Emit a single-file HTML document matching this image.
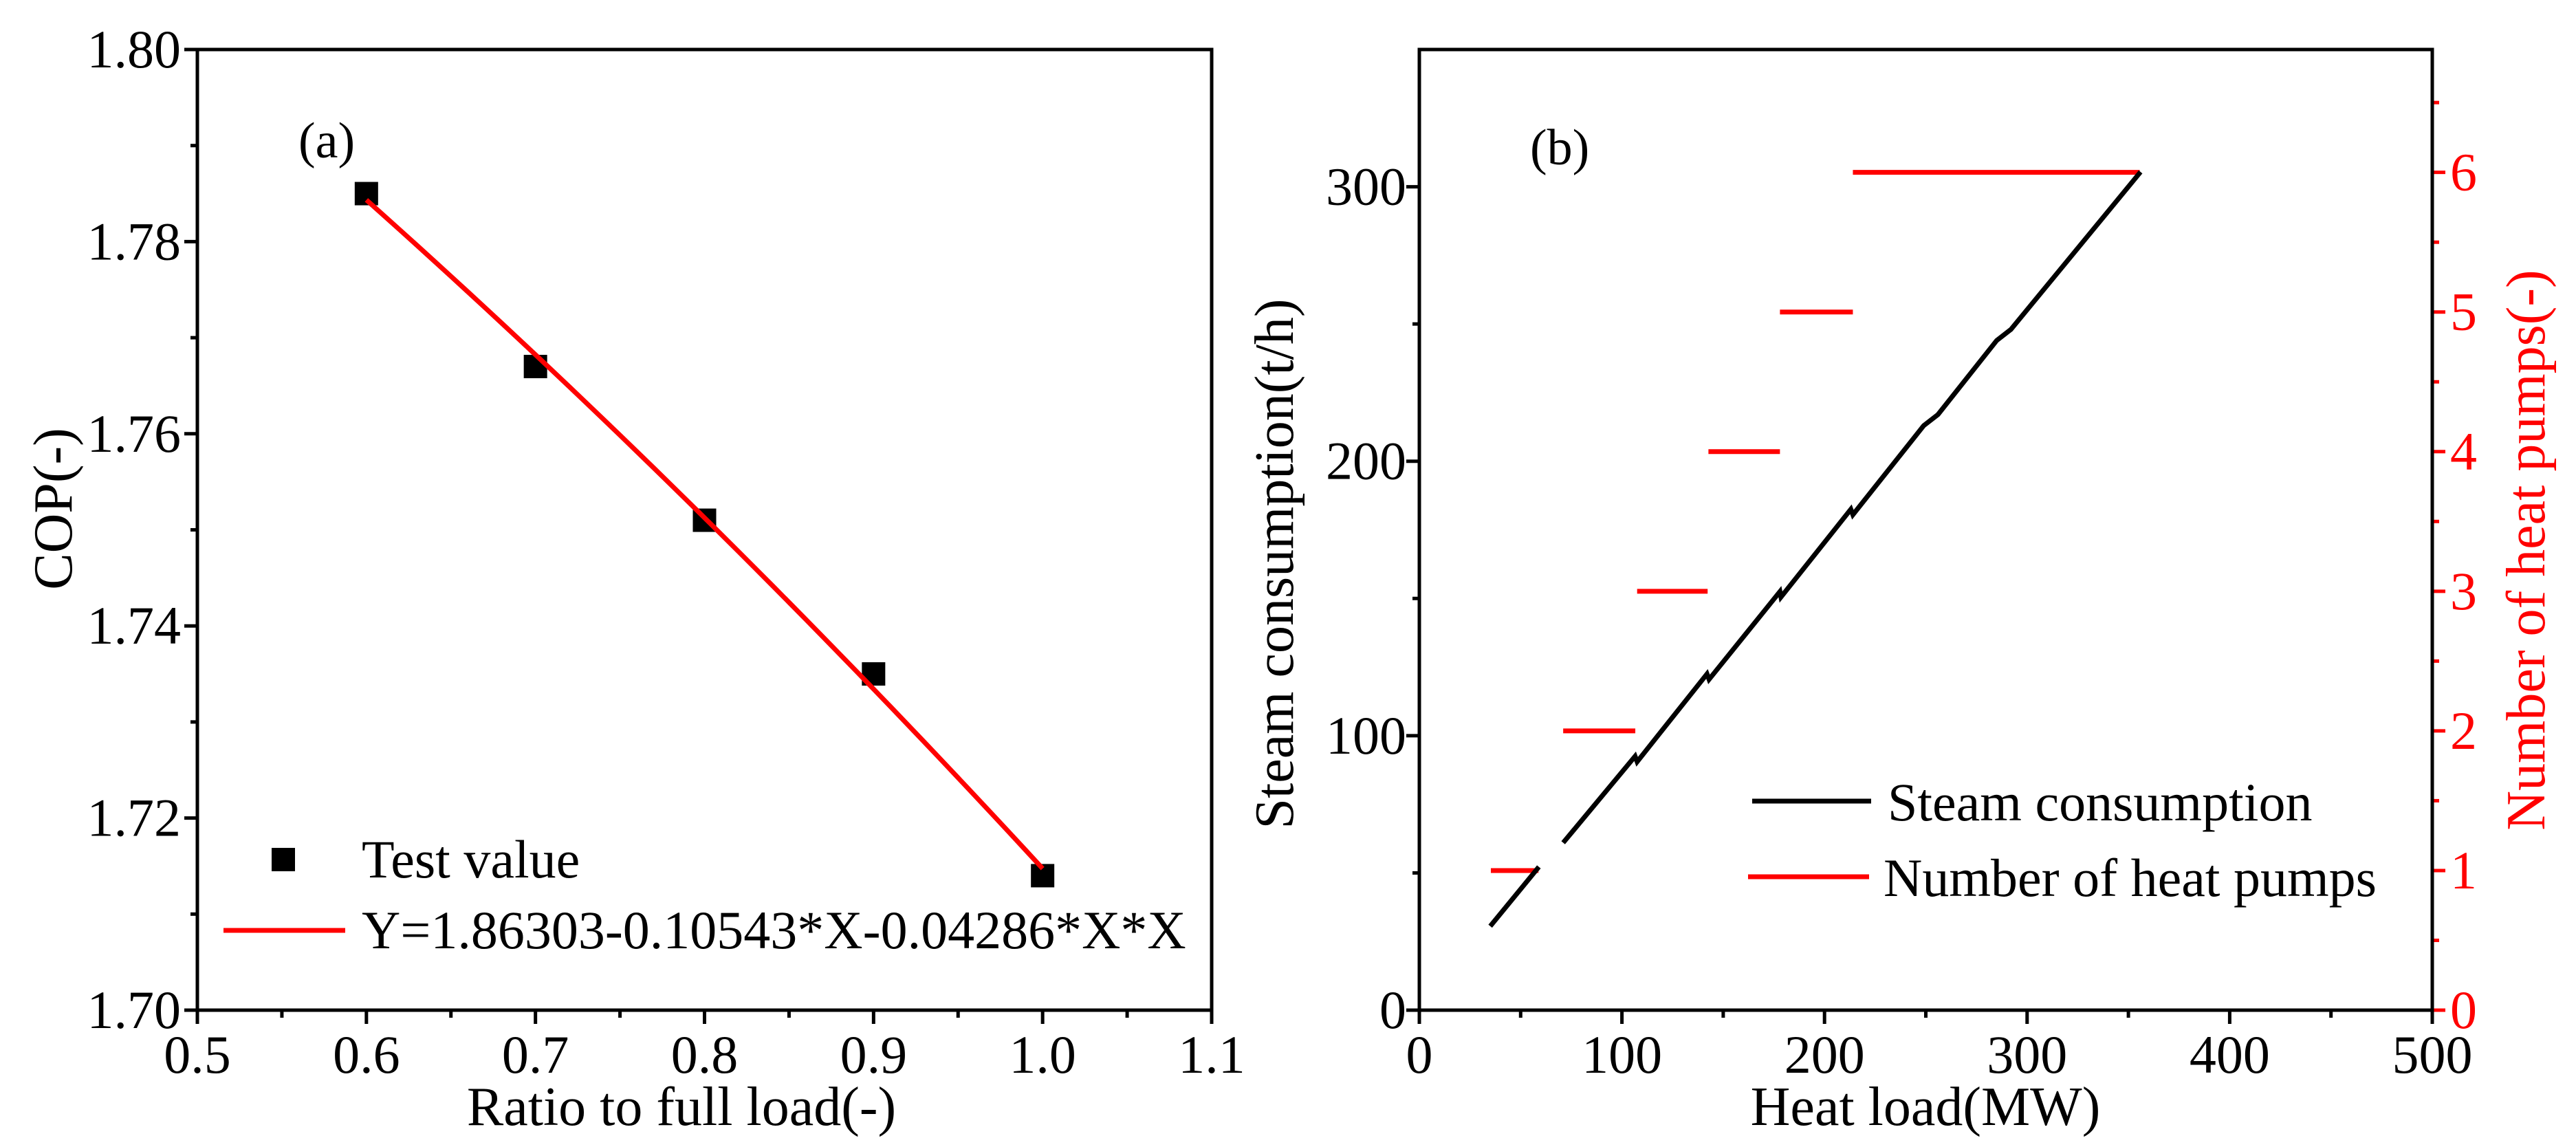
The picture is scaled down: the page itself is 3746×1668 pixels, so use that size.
<!DOCTYPE html>
<html><head><meta charset="utf-8"><style>
html,body{margin:0;padding:0;background:#fff}
svg{display:block}
svg text{font-family:"Liberation Serif","Times New Roman",serif}
</style></head><body>
<svg id="fig" width="3746" height="1668" viewBox="0 0 3746 1668" xmlns="http://www.w3.org/2000/svg" font-family="Liberation Serif, serif"></svg>
<script>
// ---- Panel (a) data ----
const ratioX = [0.6, 0.7, 0.8, 0.9, 1.0];
const copY = [1.785, 1.767, 1.751, 1.735, 1.714];
const fitCoef = [1.86303, -0.10543, -0.04286];
const fitRange = [0.6, 1.0];
const aXTicks = [0.5, 0.6, 0.7, 0.8, 0.9, 1.0, 1.1];
const aXTickLabels = ["0.5","0.6","0.7","0.8","0.9","1.0","1.1"];
const aYTicks = [1.70, 1.72, 1.74, 1.76, 1.78, 1.80];
const aYTickLabels = ["1.70","1.72","1.74","1.76","1.78","1.80"];
// ---- Panel (b) data ----
const steamSegments = [
  [[35,30.6],[59,52.2]],
  [[71,61],[106.5,92.5],[107.5,90.5],[142,122.5],[143,120.5],[178,152.5],[178.5,150.5],[213,182.5],[214,180.5],[249,213],[256,217],[285,244],[292,248],[356,305.4]]
];
const pumpCounts = [1, 2, 3, 4, 5, 6];
const pumpStart = [35.3, 71, 107.5, 142.7, 178, 214];
const pumpEnd = [58.8, 106.6, 142.3, 178, 214, 355.6];
const bXTicks = [0, 100, 200, 300, 400, 500];
const bYTicks = [0, 100, 200, 300];
const bY2Ticks = [0, 1, 2, 3, 4, 5, 6];

const NS = "http://www.w3.org/2000/svg";
const svg = document.getElementById("fig");
function mk(tag, attrs, parent, text){
  const e = document.createElementNS(NS, tag);
  for (const k in attrs) e.setAttribute(k, attrs[k]);
  if (tag === "text") e.setAttribute("font-family", "Liberation Serif, serif");
  if (text !== undefined) e.textContent = text;
  (parent || svg).appendChild(e);
  return e;
}
const aL=287,aR=1762,aT=72,aB=1469;
const ax = v => aL + (v-0.5)/0.6*(aR-aL);
const ay = v => aB - (v-1.70)/0.10*(aB-aT);
const bL=2064,bR=3537,bT=72,bB=1469;
const bx = v => bL + v/500*(bR-bL);
const by = v => bB - v/350*(bB-bT);
const by2 = v => bB - v/6.88*(bB-bT);

// ===== Panel (a) =====
const ga = mk("g", {});


for (let i=0;i<aXTicks.length;i++){
  const x=ax(aXTicks[i]);
  const t=mk("line",{x1:x,y1:aB,x2:x,y2:aB+20,stroke:"#000","stroke-width":5},ga);
  
  
  const l=mk("text",{x:x,y:1560,"font-size":78,"text-anchor":"middle"},ga,aXTickLabels[i]);
  
  
  if(i<aXTicks.length-1){const xm=ax(aXTicks[i]+0.05);
    mk("line",{x1:xm,y1:aB,x2:xm,y2:aB+11,stroke:"#000","stroke-width":5},ga);}
}
for (let i=0;i<aYTicks.length;i++){
  const y=ay(aYTicks[i]);
  const t=mk("line",{x1:aL-19,y1:y,x2:aL,y2:y,stroke:"#000","stroke-width":5},ga);
  
  
  const l=mk("text",{x:263,y:y+26,"font-size":78,"text-anchor":"end"},ga,aYTickLabels[i]);
  
  
  if(i<aYTicks.length-1){const ym=ay(aYTicks[i]+0.01);
    mk("line",{x1:aL-10,y1:ym,x2:aL,y2:ym,stroke:"#000","stroke-width":5},ga);}
}
const fa=mk("rect",{x:aL,y:aT,width:aR-aL,height:aB-aT,fill:"none",stroke:"#000","stroke-width":5},ga);


let pts=[];
for(let k=0;k<=40;k++){const x=fitRange[0]+(fitRange[1]-fitRange[0])*k/40;
  const y=fitCoef[0]+fitCoef[1]*x+fitCoef[2]*x*x; pts.push(ax(x)+","+ay(y));}
for(let i=0;i<ratioX.length;i++){
  const m=mk("rect",{x:ax(ratioX[i])-17,y:ay(copY[i])-17,width:34,height:34,fill:"#000"},ga);
  
  
}
const fl=mk("polyline",{points:pts.join(" "),fill:"none",stroke:"#ff0000","stroke-width":7},ga);


const la=mk("text",{x:434,y:229,"font-size":74},ga,"(a)");


const xta=mk("text",{x:991,y:1636,"font-size":80,"text-anchor":"middle"},ga,"Ratio to full load(-)");


const yta=mk("text",{x:0,y:0,"font-size":80,"text-anchor":"middle",transform:"translate(104,740) rotate(-90)"},ga,"COP(-)");


const lg1=mk("rect",{x:395,y:1233,width:34,height:34,fill:"#000"},ga);


const lt1=mk("text",{x:526,y:1276,"font-size":78},ga,"Test value");


const lg2=mk("line",{x1:325,y1:1353,x2:502,y2:1353,stroke:"#ff0000","stroke-width":7},ga);


const lt2=mk("text",{x:526,y:1379,"font-size":78},ga,"Y=1.86303-0.10543*X-0.04286*X*X");



// ===== Panel (b) =====
const gb = mk("g", {});


for(let i=0;i<bXTicks.length;i++){
  const x=bx(bXTicks[i]);
  const t=mk("line",{x1:x,y1:bB,x2:x,y2:bB+20,stroke:"#000","stroke-width":5},gb);
  
  
  const l=mk("text",{x:x,y:1560,"font-size":78,"text-anchor":"middle"},gb,String(bXTicks[i]));
  
  
  if(i<bXTicks.length-1){const xm=bx(bXTicks[i]+50);
    mk("line",{x1:xm,y1:bB,x2:xm,y2:bB+11,stroke:"#000","stroke-width":5},gb);}
}
for(let i=0;i<bYTicks.length;i++){
  const y=by(bYTicks[i]);
  const t=mk("line",{x1:bL-19,y1:y,x2:bL,y2:y,stroke:"#000","stroke-width":5},gb);
  
  
  const l=mk("text",{x:2045,y:y+26,"font-size":78,"text-anchor":"end"},gb,String(bYTicks[i]));
  
  
  const ym=by(bYTicks[i]+50);
  if(ym>bT) mk("line",{x1:bL-10,y1:ym,x2:bL,y2:ym,stroke:"#000","stroke-width":5},gb);
}
for(let i=0;i<bY2Ticks.length;i++){
  const y=by2(bY2Ticks[i]);
  const t=mk("line",{x1:bR,y1:y,x2:bR+19,y2:y,stroke:"#ff0000","stroke-width":5},gb);
  
  
  const l=mk("text",{x:3563,y:y+26,"font-size":78,fill:"#ff0000"},gb,String(bY2Ticks[i]));
  
  
  const ym=by2(bY2Ticks[i]+0.5);
  if(ym>bT) mk("line",{x1:bR,y1:ym,x2:bR+10,y2:ym,stroke:"#ff0000","stroke-width":5},gb);
}
const fb=mk("rect",{x:bL,y:bT,width:bR-bL,height:bB-bT,fill:"none",stroke:"#000","stroke-width":5},gb);


for(let i=0;i<pumpCounts.length;i++){
  const y=by2(pumpCounts[i]);
  const s=mk("line",{x1:bx(pumpStart[i]),y1:y,x2:bx(pumpEnd[i]),y2:y,stroke:"#ff0000","stroke-width":7},gb);
  
  
}
for(const seg of steamSegments){
  const p=seg.map(d=>bx(d[0])+","+by(d[1])).join(" ");
  const s=mk("polyline",{points:p,fill:"none",stroke:"#000","stroke-width":7},gb);
  
  
}
const lb=mk("text",{x:2225,y:239,"font-size":74},gb,"(b)");


const xtb=mk("text",{x:2800,y:1636,"font-size":80,"text-anchor":"middle"},gb,"Heat load(MW)");


const ytb=mk("text",{x:0,y:0,"font-size":80,"text-anchor":"middle",transform:"translate(1880,820) rotate(-90)"},gb,"Steam consumption(t/h)");


const y2tb=mk("text",{x:0,y:0,"font-size":80,"text-anchor":"middle",fill:"#ff0000",transform:"translate(3700,800) rotate(-90)"},gb,"Number of heat pumps(-)");


const l3=mk("line",{x1:2548,y1:1165,x2:2721,y2:1165,stroke:"#000","stroke-width":7},gb);


const t3=mk("text",{x:2745,y:1193,"font-size":78},gb,"Steam consumption");


const l4=mk("line",{x1:2542,y1:1275,x2:2718,y2:1275,stroke:"#ff0000","stroke-width":7},gb);


const t4=mk("text",{x:2739,y:1303,"font-size":78},gb,"Number of heat pumps");


</script>
</body></html>
